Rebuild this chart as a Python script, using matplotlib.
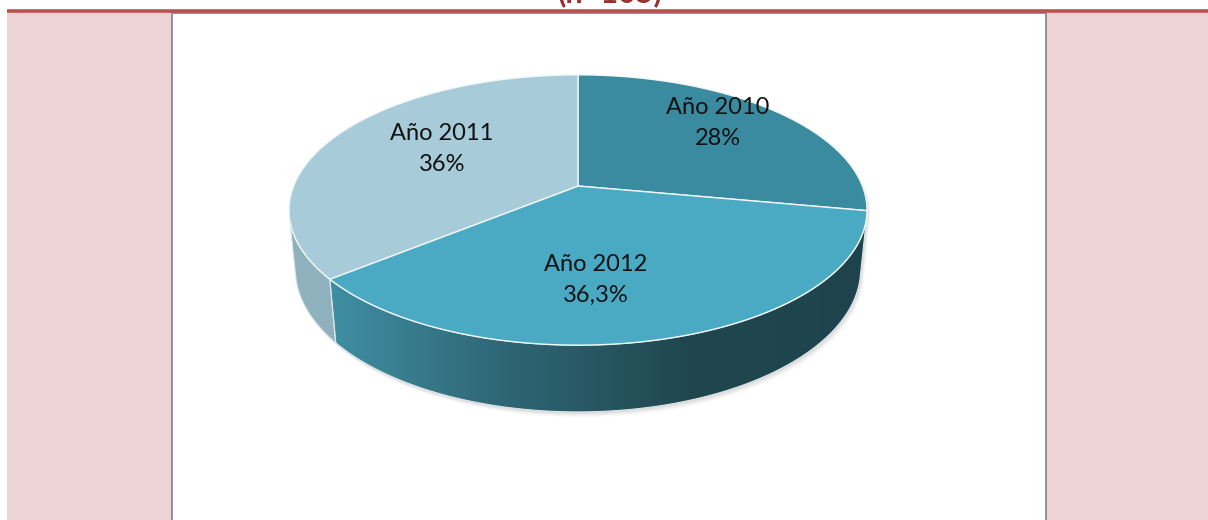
import numpy as np
import matplotlib
matplotlib.use('Agg')
import matplotlib.pyplot as plt
from matplotlib.patches import Polygon, Rectangle
from matplotlib.colors import LinearSegmentedColormap

# ---------------- data ----------------
categories = ['Año 2010', 'Año 2012', 'Año 2011']   # clockwise from 12 o'clock
values = [28, 36.3, 36]
value_labels = ['28%', '36,3%', '36%']
title = '(n=105)'

# ---------------- style / layout ----------------
top_colors = ['#3A8AA0', '#4AAAC4', '#A7CBD9']
side_colors = ['#24505C', None, '#8FB0BD']          # None -> gradient
grad_stops = ['#3F8EA2', '#2E6574', '#20474F', '#1E434D']
label_pos = [(718, 123), (596, 280), (442, 149)]    # pixel anchors of labels

W, Hpx = 1208, 520
CX, CY = 578, 186            # projected pie centre (px)
ELEV = np.radians(27.4)
DIST = 5.0
FOC = 1422.0
THICK = 0.237

s_e, c_e = np.sin(ELEV), np.cos(ELEV)


def proj(u, v, h):
    depth = DIST + c_e * v - s_e * h
    yc = s_e * v + c_e * h
    return CX + FOC * u / depth, CY - FOC * yc / depth


def arc(t0, t1, h, n=200):
    t = np.radians(np.linspace(t0, t1, n))
    x, y = proj(np.cos(t), np.sin(t), h)
    return np.column_stack([x, y])


fig = plt.figure(figsize=(W / 100, Hpx / 100), dpi=100)
ax = fig.add_axes([0, 0, 1, 1])
ax.set_xlim(0, W)
ax.set_ylim(Hpx, 0)
ax.axis('off')

# background frame
ax.add_patch(Rectangle((7, 12), W - 7, Hpx - 12, facecolor='#EED3D4', edgecolor='none', zorder=0))
ax.add_patch(Rectangle((172, 13), 1046 - 172, Hpx - 13 + 5, facecolor='white',
                       edgecolor='#8A8A8A', linewidth=1.3, zorder=1))
ax.plot([7, W], [11.3, 11.3], color='#C0504D', linewidth=2.6, solid_capstyle='butt', zorder=2)
ax.text(610, 2, title, ha='center', va='baseline', fontsize=22, fontweight='bold',
        color='#9B2F2F', family='Lato', zorder=3)

# angles (clockwise from top)
vals = np.array(values, dtype=float)
frac = vals / vals.sum()
bounds = 90 - 360 * np.concatenate([[0], np.cumsum(frac)])

# visible side range
vs = -1.0 / (DIST * c_e)
t_right = np.degrees(np.arcsin(vs))
t_left = -180 - t_right

# drop shadow (outline of the whole disc)
sil = np.vstack([arc(t_right, 180 - t_right, 0), arc(t_left, t_right, -THICK)])
for k, a in zip(range(6, 0, -1), [0.03, 0.04, 0.05, 0.06, 0.07, 0.08]):
    sh = sil + np.array([k * 0.6, k * 0.9])
    ax.add_patch(Polygon(sh, closed=True, facecolor='#808080', edgecolor='none', alpha=a, zorder=3))

cmap = LinearSegmentedColormap.from_list('side', grad_stops)

# side faces
for i in range(len(values)):
    a0, a1 = bounds[i], bounds[i + 1]          # a0 > a1
    lo, hi = max(a1, t_left), min(a0, t_right)
    if hi <= lo:
        continue
    poly = np.vstack([arc(hi, lo, 0), arc(lo, hi, -THICK)])
    if side_colors[i] is None:
        p = Polygon(poly, closed=True, facecolor='none', edgecolor='#DDE6E8', linewidth=0.8, zorder=5)
        ax.add_patch(p)
        x0, x1 = poly[:, 0].min(), poly[:, 0].max()
        y0, y1 = poly[:, 1].min(), poly[:, 1].max()
        grad = np.linspace(0, 1, 256)[None, :]
        im = ax.imshow(grad, cmap=cmap, extent=(x0, x1, y1, y0), aspect='auto', zorder=4)
        im.set_clip_path(p)
    else:
        ax.add_patch(Polygon(poly, closed=True, facecolor=side_colors[i], edgecolor='#DDE6E8',
                             linewidth=0.8, zorder=4))

# top faces
for i in range(len(values)):
    a0, a1 = bounds[i], bounds[i + 1]
    cx, cy = proj(0.0, 0.0, 0.0)
    poly = np.vstack([[cx, cy], arc(a0, a1, 0)])
    ax.add_patch(Polygon(poly, closed=True, facecolor=top_colors[i], edgecolor='#F2F7F8',
                         linewidth=1.0, joinstyle='round', zorder=6))

# labels
for i in range(len(values)):
    x, y = label_pos[i]
    ax.text(x, y, f'{categories[i]}\n{value_labels[i]}', ha='center', va='center',
            fontsize=17, family='Lato', color='#111111', linespacing=1.55, zorder=8)

ax.set_xlim(0, W)
ax.set_ylim(Hpx, 0)
fig.savefig('out.png', dpi=100)
